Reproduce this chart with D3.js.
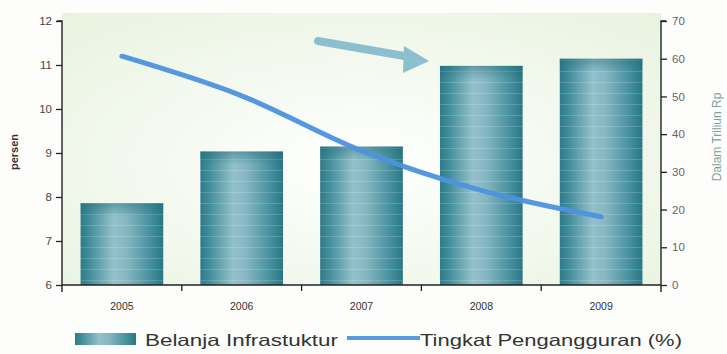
<!DOCTYPE html>
<html><head><meta charset="utf-8">
<script src="https://cdn.jsdelivr.net/npm/d3@7/dist/d3.min.js"></script>
<style>
html,body{margin:0;padding:0;background:#fff;}
svg{display:block;font-family:"Liberation Sans",Arial,sans-serif;}
</style></head>
<body>
<svg id="c" width="727" height="354"></svg>
<script>
const years = ["2005","2006","2007","2008","2009"];
const spending = [21.7, 35.4, 36.7, 58.1, 60.0];      // Belanja Infrastuktur (Triliun Rp)
const unemployment = [11.2, 10.3, 9.05, 8.15, 7.55];  // Tingkat Pengangguran (%)
const leftTicks = [6,7,8,9,10,11,12];
const rightTicks = [0,10,20,30,40,50,60,70];
const seriesNames = ["Belanja Infrastuktur","Tingkat Pengangguran (%)"];

const svg = d3.select("#c");
const L = 62, R = 661, T = 21, B = 285;

const defs = svg.append("defs");
const bg = defs.append("radialGradient").attr("id","bg").attr("cx","50%").attr("cy","55%").attr("r","75%");
bg.append("stop").attr("offset","0%").attr("stop-color","#ffffff");
bg.append("stop").attr("offset","100%").attr("stop-color","#e8f3df");
const bar = defs.append("linearGradient").attr("id","bar").attr("x1","0").attr("x2","1");
[[0,"#2c7b89"],[0.12,"#468f9c"],[0.4,"#94c1cb"],[0.55,"#86b7c2"],[0.85,"#45909d"],[1,"#2a7685"]]
  .forEach(([o,c])=>bar.append("stop").attr("offset",o).attr("stop-color",c));
const pat = defs.append("pattern").attr("id","lines").attr("patternUnits","userSpaceOnUse")
  .attr("width",10).attr("height",11);
pat.append("rect").attr("y",5).attr("width",10).attr("height",1).attr("fill","#ffffff").attr("opacity",0.16);
const topShade = defs.append("linearGradient").attr("id","topShade").attr("x1","0").attr("x2","0").attr("y1","0").attr("y2","1");
topShade.append("stop").attr("offset","0").attr("stop-color","#1f6a78").attr("stop-opacity",0.45);
topShade.append("stop").attr("offset","1").attr("stop-color","#1f6a78").attr("stop-opacity",0);

svg.append("rect").attr("x",0).attr("y",0).attr("width",727).attr("height",354).attr("fill","#fdfefb");
svg.append("rect").attr("x",L).attr("y",T-8).attr("width",R-L).attr("height",B-T+8).attr("fill","url(#bg)");

const x = d3.scaleBand().domain(years).range([L,R]).paddingInner(0.31).paddingOuter(0.155);
const yL = d3.scaleLinear().domain([6,12]).range([B,T]);
const yR = d3.scaleLinear().domain([0,70]).range([B,T]);

// bars
const g = svg.append("g");
years.forEach((yr,i)=>{
  const bx = x(yr), bw = x.bandwidth(), by = yR(spending[i]), bh = B - yR(spending[i]);
  g.append("rect").attr("x",bx).attr("y",by).attr("width",bw).attr("height",bh).attr("fill","url(#bar)");
  g.append("rect").attr("x",bx).attr("y",by).attr("width",bw).attr("height",bh).attr("fill","url(#lines)");
  g.append("rect").attr("x",bx).attr("y",by).attr("width",bw).attr("height",Math.min(14,bh)).attr("fill","url(#topShade)");
});

// arrow annotation
const ag = svg.append("g").attr("opacity",0.8);
ag.append("line").attr("x1",318).attr("y1",41).attr("x2",410).attr("y2",57)
  .attr("stroke","#72b2c8").attr("stroke-width",8).attr("stroke-linecap","round");
ag.append("path").attr("d","M404,46 L429,61 L403,73 Z").attr("fill","#72b2c8");

// line
const line = d3.line().x((d,i)=>x(years[i])+x.bandwidth()/2).y(d=>yL(d)).curve(d3.curveMonotoneX);
svg.append("path").datum(unemployment).attr("d",line).attr("fill","none")
  .attr("stroke","#4d92de").attr("stroke-width",5).attr("stroke-linecap","round").attr("opacity",0.95);

// axes
const axL = svg.append("g").attr("transform",`translate(${L},0)`)
  .call(d3.axisLeft(yL).tickValues(leftTicks).tickSize(6).tickPadding(4).tickFormat(d3.format("d")));
const axR = svg.append("g").attr("transform",`translate(${R},0)`)
  .call(d3.axisRight(yR).tickValues(rightTicks).tickSize(6).tickPadding(5).tickFormat(d3.format("d")));
[axL,axR].forEach(a=>{
  a.select(".domain").attr("stroke","#222").attr("stroke-width",1.4).attr("d",`M${a===axL?-5:5},${T}H0V${B+7}`);
  a.selectAll(".tick line").attr("stroke","#222").attr("stroke-width",1.3);
  a.selectAll("text").attr("font-size",11.5).attr("fill","#444");
});
axR.selectAll("text").attr("fill","#666");

const axB = svg.append("g").attr("transform",`translate(0,${B})`)
  .call(d3.axisBottom(x).tickSize(0).tickPadding(18));
axB.select(".domain").attr("stroke","#222").attr("stroke-width",1.6).attr("d",`M${L},0H${R}`);
axB.selectAll("text").attr("font-size",10.5).attr("fill","#333");
const step = x.step();
const bounds = years.slice(1).map(yr => x(yr) - step*x.paddingInner()/2);
axB.selectAll(".sep").data(bounds).enter().append("line")
  .attr("x1",d=>d).attr("x2",d=>d).attr("y1",0).attr("y2",6).attr("stroke","#222").attr("stroke-width",1.3);

// axis titles
svg.append("text").attr("transform","translate(18,152) rotate(-90)").attr("text-anchor","middle")
  .attr("font-size",11).attr("font-weight","bold").attr("fill","#333").text("persen");
svg.append("text").attr("transform","translate(721,137) rotate(-90)").attr("text-anchor","middle")
  .attr("font-size",12).attr("fill","#7f9f9f").text("Dalam Triliun Rp");

// legend
const lg = svg.append("g");
lg.append("rect").attr("x",75).attr("y",333).attr("width",61).attr("height",12).attr("fill","url(#bar)");
lg.append("text").attr("x",145).attr("y",346).attr("font-size",16.5).attr("fill","#333")
  .attr("textLength",193).attr("lengthAdjust","spacingAndGlyphs").text(seriesNames[0]);
lg.append("line").attr("x1",347).attr("x2",420).attr("y1",338).attr("y2",338)
  .attr("stroke","#5a9ae0").attr("stroke-width",4);
lg.append("text").attr("x",420).attr("y",346).attr("font-size",16.5).attr("fill","#333")
  .attr("textLength",262).attr("lengthAdjust","spacingAndGlyphs").text(seriesNames[1]);
</script>
</body></html>
